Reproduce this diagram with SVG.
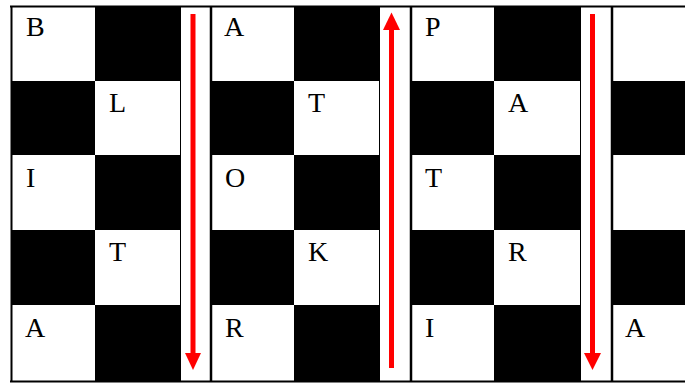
<svg xmlns="http://www.w3.org/2000/svg" width="685" height="383" viewBox="0 0 685 383">
<style>
.b{fill:#000}
.t{font-family:"Liberation Serif","Times New Roman",serif;font-size:28px;fill:#000}
.ln{stroke:#000;fill:none}
.arr{stroke:#ff0000;stroke-width:5;fill:none}
.hd{fill:#ff0000}
</style>
<rect x="0" y="0" width="685" height="383" fill="#fff"/>
<g id="block1">
<rect class="b" x="95" y="7" width="85" height="74"/>
<rect class="b" x="12" y="81" width="83" height="74"/>
<rect class="b" x="95" y="155" width="85" height="75"/>
<rect class="b" x="12" y="230" width="83" height="75"/>
<rect class="b" x="95" y="305" width="85" height="76"/>
<text class="t" x="26" y="36">B</text>
<text class="t" x="109" y="112">L</text>
<text class="t" x="26" y="187">I</text>
<text class="t" x="109" y="261">T</text>
<text class="t" x="25" y="337">A</text>
</g>
<g id="block2">
<rect class="b" x="294" y="7" width="85" height="74"/>
<rect class="b" x="212" y="81" width="82" height="74"/>
<rect class="b" x="294" y="155" width="85" height="75"/>
<rect class="b" x="212" y="230" width="82" height="75"/>
<rect class="b" x="294" y="305" width="85" height="76"/>
<text class="t" x="224" y="36">A</text>
<text class="t" x="308" y="112">T</text>
<text class="t" x="225" y="187">O</text>
<text class="t" x="308" y="261">K</text>
<text class="t" x="225" y="337">R</text>
</g>
<g id="block3">
<rect class="b" x="494" y="7" width="86" height="74"/>
<rect class="b" x="412" y="81" width="82" height="74"/>
<rect class="b" x="494" y="155" width="86" height="75"/>
<rect class="b" x="412" y="230" width="82" height="75"/>
<rect class="b" x="494" y="305" width="86" height="76"/>
<text class="t" x="425" y="36">P</text>
<text class="t" x="508" y="112">A</text>
<text class="t" x="425" y="187">T</text>
<text class="t" x="508" y="261">R</text>
<text class="t" x="425" y="337">I</text>
</g>
<g id="block4">
<rect class="b" x="613" y="81" width="72" height="74"/>
<rect class="b" x="613" y="230" width="72" height="75"/>
<text class="t" x="625" y="337">A</text>
</g>
<g id="frame">
<line class="ln" x1="10" y1="6.5" x2="685" y2="6.5" stroke-width="2"/>
<line class="ln" x1="10" y1="381.5" x2="685" y2="381.5" stroke-width="2"/>
<line class="ln" x1="11.5" y1="6" x2="11.5" y2="382" stroke-width="2"/>
<line class="ln" x1="180.5" y1="6" x2="180.5" y2="382" stroke-width="1"/>
<line class="ln" x1="211" y1="6" x2="211" y2="382" stroke-width="2.5"/>
<line class="ln" x1="379.5" y1="6" x2="379.5" y2="382" stroke-width="1"/>
<line class="ln" x1="411" y1="6" x2="411" y2="382" stroke-width="2.5"/>
<line class="ln" x1="580.5" y1="6" x2="580.5" y2="382" stroke-width="1"/>
<line class="ln" x1="612" y1="6" x2="612" y2="382" stroke-width="2.5"/>
</g>
<g id="connectors">
<line class="arr" x1="193" y1="14" x2="193" y2="356"/>
<polygon class="hd" points="185,353 201,353 193,370"/>
<line class="arr" x1="391.5" y1="368" x2="391.5" y2="27"/>
<polygon class="hd" points="383,30 400,30 391.5,12.5"/>
<line class="arr" x1="592.5" y1="14" x2="592.5" y2="356"/>
<polygon class="hd" points="584,353 601,353 592.5,370"/>
</g>
</svg>
